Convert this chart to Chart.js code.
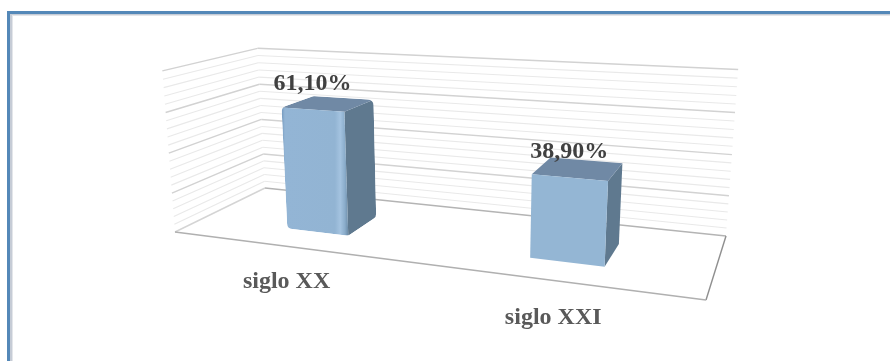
<!DOCTYPE html>
<html lang="es">
<head>
<meta charset="utf-8">
<title>siglo XX / siglo XXI</title>
<style>
html,body{margin:0;padding:0;background:#fff}
canvas{display:block}
</style>
<script src="https://cdn.jsdelivr.net/npm/chart.js@4"></script>
</head>
<body>
<canvas id="c" width="890" height="361"></canvas>
<script>
const categories=['siglo XX','siglo XXI'];
const shares=[61.1,38.9];
const axisMax=80,minorStep=4,majorStep=20;

// corners of the 3D box on screen: floor front-left, front-right, back-left, back-right, then top of the walls
const floorFL=[175,232],floorFR=[706,300],floorBL=[265,188],floorBR=[726,236];
const topBL=[258,47],topBR=[738,72],topFL=[162,70];
const barDepth=[0.28,0.66];
// category slots sit slightly inside the floor
const slotStart=0.016,slotSpan=0.984;

// gaussian elimination, enough for the small systems below
function solve(A,b){
  const n=b.length,M=A.map((r,i)=>[...r,b[i]]);
  for(let i=0;i<n;i++){
    let p=i;
    for(let k=i+1;k<n;k++)if(Math.abs(M[k][i])>Math.abs(M[p][i]))p=k;
    [M[i],M[p]]=[M[p],M[i]];
    for(let k=i+1;k<n;k++){
      const f=M[k][i]/M[i][i];
      for(let j=i;j<=n;j++)M[k][j]-=f*M[i][j];
    }
  }
  const x=new Array(n).fill(0);
  for(let i=n-1;i>=0;i--){
    let s=M[i][n];
    for(let j=i+1;j<n;j++)s-=M[i][j]*x[j];
    x[i]=s/M[i][i];
  }
  return x;
}

// floor plane (u,w) as a homography, then one extra column for height
function buildCamera(){
  const src=[[0,0,floorFL],[1,0,floorFR],[0,1,floorBL],[1,1,floorBR]],A=[],b=[];
  src.forEach(([u,w,[x,y]])=>{
    A.push([u,w,1,0,0,0,-u*x,-w*x]);b.push(x);
    A.push([0,0,0,u,w,1,-u*y,-w*y]);b.push(y);
  });
  const h=solve(A,b);
  const base=(u,w)=>[h[0]*u+h[1]*w+h[2],h[3]*u+h[4]*w+h[5],h[6]*u+h[7]*w+1];
  const rows=[],rhs=[];
  [[0,1,topBL],[1,1,topBR],[0,0,topFL]].forEach(([u,w,[x,y]])=>{
    const [X,Y,W]=base(u,w);
    rows.push([1,0,-x]);rhs.push(x*W-X);
    rows.push([0,1,-y]);rhs.push(y*W-Y);
  });
  const N=[0,1,2].map(i=>[0,1,2].map(j=>rows.reduce((s,r)=>s+r[i]*r[j],0)));
  const t=[0,1,2].map(i=>rows.reduce((s,r,k)=>s+r[i]*rhs[k],0));
  const [a,c,d]=solve(N,t);
  return (u,v,w)=>{
    const [X,Y,W]=base(u,w),q=W+v*d;
    return [(X+v*a)/q,(Y+v*c)/q];
  };
}
const project=buildCamera();

function line(ctx,p,q,color,width){
  ctx.strokeStyle=color;ctx.lineWidth=width;
  ctx.beginPath();ctx.moveTo(p[0],p[1]);ctx.lineTo(q[0],q[1]);ctx.stroke();
}
function tracePath(ctx,pts,radius){
  const n=pts.length;
  ctx.beginPath();
  if(radius){
    const mid=(a,b)=>[(a[0]+b[0])/2,(a[1]+b[1])/2],st=mid(pts[n-1],pts[0]);
    ctx.moveTo(st[0],st[1]);
    pts.forEach((p,i)=>{const q=pts[(i+1)%n],m=mid(p,q);ctx.arcTo(p[0],p[1],m[0],m[1],radius);});
  }else{
    pts.forEach((p,i)=>i?ctx.lineTo(p[0],p[1]):ctx.moveTo(p[0],p[1]));
  }
  ctx.closePath();
}
function face(ctx,pts,fill){
  tracePath(ctx,pts,0);
  ctx.fillStyle=fill;ctx.fill();
}

const box3d={
  id:'box3d',
  beforeDraw(chart){
    // frame along the top and left only
    const ctx=chart.ctx;
    ctx.fillStyle='#e4e6ea';ctx.fillRect(7,11,883,5);ctx.fillRect(7,11,6,350);
    ctx.fillStyle='#c6ccd6';ctx.fillRect(7,11,883,4);ctx.fillRect(7,11,5,350);
    ctx.fillStyle='#5488b8';ctx.fillRect(7,11,883,3);ctx.fillRect(7,11,3,350);
  },
  beforeDatasetsDraw(chart){
    const ctx=chart.ctx,area=chart.chartArea,y=chart.scales.y;
    const toV=px=>(area.bottom-px)/(area.bottom-area.top);
    const toU=px=>slotStart+slotSpan*(px-area.left)/(area.right-area.left);
    // walls: minor ticks first, major on top
    const ticks=y.ticks.slice().sort((a,b)=>(a.value%majorStep===0)-(b.value%majorStep===0));
    ticks.forEach(t=>{
      const v=toV(y.getPixelForValue(t.value)),major=t.value%majorStep===0;
      const col=major?'#d2d2d2':'#e9e9e9',lw=major?1.4:1.1;
      if(t.value===0)return;
      line(ctx,project(0,v,0),project(0,v,1),col,lw);
      line(ctx,project(0,v,1),project(1,v,1),col,lw);
    });
    // floor edges
    line(ctx,project(0,0,0),project(0,0,1),'#d4d4d4',1.4);
    line(ctx,project(0,0,1),project(1,0,1),'#b4b4b4',1.4);
    line(ctx,project(1,0,1),project(1,0,0),'#8f8f8f',1.4);
    line(ctx,project(0,0,0),project(1,0,0),'#b0b0b0',1.4);
    // bars from the bar elements the library laid out
    const [d0,d1]=barDepth,meta=chart.getDatasetMeta(0);
    meta.data.forEach((bar,i)=>{
      const u0=toU(bar.x-bar.width/2),u1=toU(bar.x+bar.width/2),v=toV(bar.y);
      const fbl=project(u0,0,d0),fbr=project(u1,0,d0),ftl=project(u0,v,d0),ftr=project(u1,v,d0);
      const bbr=project(u1,0,d1),btl=project(u0,v,d1),btr=project(u1,v,d1);
      // first bar has a soft bevelled look: rounded outline plus a shaded front
      const soft=i===0;
      ctx.save();
      if(soft){tracePath(ctx,[ftl,btl,btr,bbr,fbr,fbl],6);ctx.clip();}
      face(ctx,[ftr,btr,bbr,fbr],'#5f798f');
      face(ctx,[ftl,btl,btr,ftr],'#7089a5');
      let fill='#94b6d4';
      if(soft){
        fill=ctx.createLinearGradient(ftl[0],0,fbr[0],0);
        fill.addColorStop(0,'#7398bd');fill.addColorStop(.05,'#93b5d5');
        fill.addColorStop(.8,'#92b4d3');fill.addColorStop(.88,'#a4c3e0');
        fill.addColorStop(.95,'#8aacca');fill.addColorStop(1,'#6a8aa6');
      }
      face(ctx,[ftl,ftr,fbr,fbl],fill);
      ctx.restore();
    });
    return false;
  },
  afterDraw(chart){
    const ctx=chart.ctx,area=chart.chartArea,x=chart.scales.x;
    const meta=chart.getDatasetMeta(0),d0=barDepth[0];
    const toU=px=>slotStart+slotSpan*(px-area.left)/(area.right-area.left);
    const toV=px=>(area.bottom-px)/(area.bottom-area.top);
    ctx.textAlign='center';ctx.textBaseline='alphabetic';
    meta.data.forEach((bar,i)=>{
      const u=toU(bar.x),v=toV(bar.y);
      const top=project(u,v,d0),foot=project(u,0,-0.17);
      ctx.font='bold 24px "Liberation Serif"';
      ctx.fillStyle='#404040';
      ctx.fillText(shares[i].toFixed(2).replace('.',',')+'%',top[0],top[1]-20);
      ctx.fillStyle='#595959';
      ctx.fillText(x.getLabelForValue(i),foot[0]+9,foot[1]+31);
    });
  }
};

new Chart(document.getElementById('c'),{
  type:'bar',
  data:{labels:categories,datasets:[{data:shares,backgroundColor:'#94b6d4',categoryPercentage:.27,barPercentage:1}]},
  options:{
    responsive:false,animation:false,
    plugins:{legend:{display:false},tooltip:{enabled:false}},
    scales:{
      x:{display:false},
      y:{display:false,min:0,max:axisMax,ticks:{stepSize:minorStep,autoSkip:false}}
    }
  },
  plugins:[box3d]
});
</script>
</body>
</html>
